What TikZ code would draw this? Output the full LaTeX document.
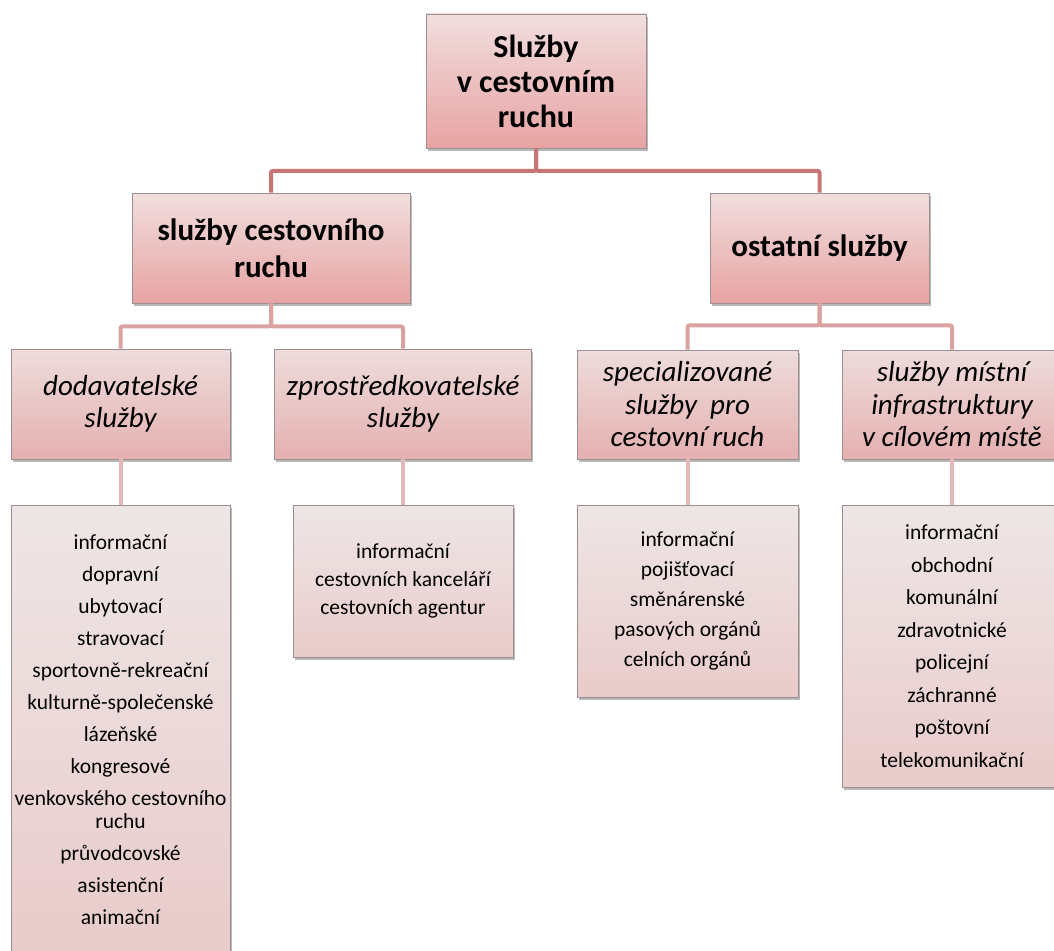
\documentclass[tikz,border=0pt]{standalone}
\usepackage{fontspec}
\setmainfont{Carlito}
\usetikzlibrary{shadows}
\definecolor{lineA}{HTML}{C97575}
\definecolor{lineB}{HTML}{DBA2A2}
\definecolor{lineC}{HTML}{E3B8B8}
\definecolor{topA}{HTML}{F1DEDE}
\definecolor{botA}{HTML}{E8A3A3}
\definecolor{topB}{HTML}{EEDCDC}
\definecolor{botB}{HTML}{E5B0B0}
\definecolor{topC}{HTML}{EEE6E6}
\definecolor{botC}{HTML}{E9CBCB}
\definecolor{edge}{HTML}{9E9090}
\tikzset{
  boxbase/.style={draw=edge, line width=0.8pt, align=center, inner sep=0pt,
    drop shadow={shadow xshift=1.5pt, shadow yshift=-3pt, opacity=0.28, fill=black}},
  lvlA/.style={boxbase, top color=topA, bottom color=botA,
    font=\fontsize{32}{35}\selectfont\bfseries},
  lvlAb/.style={lvlA, font=\fontsize{31}{37}\selectfont\bfseries},
  lvlB/.style={boxbase, top color=topB, bottom color=botB,
    font=\fontsize{29}{32.5}\selectfont\itshape},
  lvlC/.style={boxbase, top color=topC, bottom color=botC,
    font=\fontsize{21.5}{23}\selectfont},
  connA/.style={draw=lineA, line width=4pt, rounded corners=2pt},
  connB/.style={draw=lineB, line width=4pt, rounded corners=2pt},
  connC/.style={draw=lineC, line width=4pt},
}
\begin{document}
\begin{tikzpicture}[x=1pt,y=-1pt]
\clip (0,0) rectangle (1054,950);
\fill[white] (0,0) rectangle (1054,950);

% level 1
\node[lvlA, minimum width=220pt, minimum height=134pt] (root) at (536,81)
  {Služby\\v cestovním\\ruchu};

% level 2
\node[lvlAb, minimum width=278pt, minimum height=110pt] (cr) at (271,248)
  {služby cestovního\\ruchu};
\node[lvlAb, minimum width=219pt, minimum height=110pt] (os) at (819.5,248)
  {ostatní služby};

% level 3
\node[lvlB, minimum width=219pt, minimum height=110pt] (dod) at (120.5,404)
  {dodavatelské\\služby};
\node[lvlB, minimum width=257pt, minimum height=110pt] (zpr) at (403,404)
  {zprostředkovatelské\\služby};
\node[lvlB, minimum width=221pt, minimum height=109pt] (spe) at (687.5,404.5)
  {specializované\\služby~ pro\\cestovní ruch};
\node[lvlB, minimum width=220pt, minimum height=109pt] (mis) at (952,404.5)
  {služby místní\\infrastruktury\\v cílovém místě};

% level 4
\node[lvlC, minimum width=219pt, minimum height=450pt] (dodL) at (120.5,730)
  {informační\\[9pt]dopravní\\[9pt]ubytovací\\[9pt]stravovací\\[9pt]sportovně-rekreační\\[9pt]kulturně-společenské\\[9pt]lázeňské\\[9pt]kongresové\\[9pt]venkovského cestovního\\ruchu\\[9pt]průvodcovské\\[9pt]asistenční\\[9pt]animační};
\node[lvlC, minimum width=220pt, minimum height=152pt] (zprL) at (403,581)
  {informační\\[5pt]cestovních kanceláří\\[5pt]cestovních agentur};
\node[lvlC, minimum width=221pt, minimum height=192pt] (speL) at (687.5,601)
  {informační\\[7pt]pojišťovací\\[7pt]směnárenské\\[7pt]pasových orgánů\\[7pt]celních orgánů};
\node[lvlC, minimum width=220pt, minimum height=282pt] (misL) at (952,646)
  {informační\\[9.5pt]obchodní\\[9.5pt]komunální\\[9.5pt]zdravotnické\\[9.5pt]policejní\\[9.5pt]záchranné\\[9.5pt]poštovní\\[9.5pt]telekomunikační};

% connectors
\path[connA] (root.south) -- ++(0,22.5) -| (cr.north);
\path[connA] (root.south) -- ++(0,22.5) -| (os.north);
\path[connB] (cr.south) -- ++(0,23) -| (dod.north);
\path[connB] (cr.south) -- ++(0,23) -| (zpr.north);
\path[connB] (os.south) -- ++(0,22) -| (spe.north);
\path[connB] (os.south) -- ++(0,22) -| (mis.north);
\path[connC] (dod.south) -- (dodL.north);
\path[connC] (zpr.south) -- (zprL.north);
\path[connC] (spe.south) -- (speL.north);
\path[connC] (mis.south) -- (misL.north);
\end{tikzpicture}
\end{document}
